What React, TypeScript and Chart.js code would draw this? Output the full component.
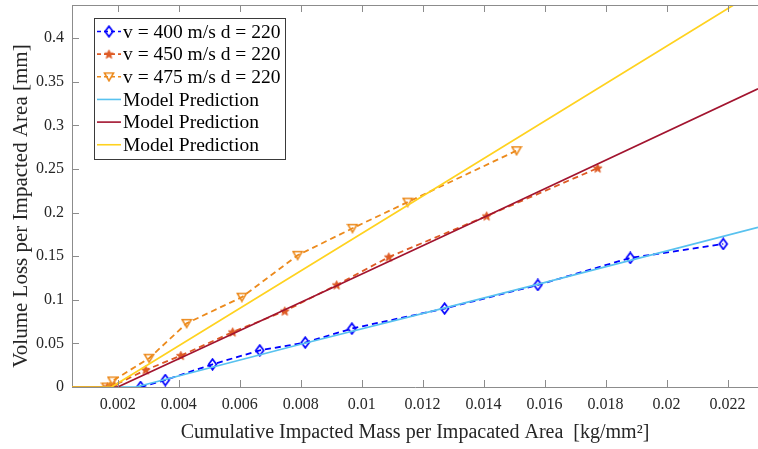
import React, { useEffect, useRef } from "react";
import { Chart, registerables } from "chart.js";

Chart.register(...registerables);

// ---- data ----
const x400 = [0.00275, 0.00356, 0.00511, 0.00666, 0.00815, 0.00968, 0.01272, 0.01578, 0.01881, 0.02186];
const y400 = [0, 0.008, 0.026, 0.042, 0.051, 0.067, 0.09, 0.117, 0.148, 0.164];

const x450 = [0.00166, 0.00188, 0.00292, 0.00407, 0.00577, 0.00748, 0.00918, 0.01089, 0.0141, 0.01774];
const y450 = [0, 0.002, 0.0195, 0.036, 0.063, 0.087, 0.117, 0.149, 0.196, 0.251];

const x475 = [0.00163, 0.00183, 0.00303, 0.00426, 0.00607, 0.0079, 0.0097, 0.01151, 0.01508];
const y475 = [0, 0.007, 0.033, 0.073, 0.103, 0.151, 0.182, 0.212, 0.271];

const xModel400 = [0.0005, 0.0026, 0.008, 0.0127, 0.0158, 0.023];
const yModel400 = [0, 0, 0.049, 0.0905, 0.118, 0.183];

const xModel450 = [0.0005, 0.002, 0.00918, 0.0141, 0.023];
const yModel450 = [0, 0, 0.116, 0.196, 0.342];

const xModel475 = [0.0005, 0.0018, 0.0127, 0.0222, 0.023];
const yModel475 = [0, 0, 0.234, 0.438, 0.455];

const xTicks = [0.002, 0.004, 0.006, 0.008, 0.01, 0.012, 0.014, 0.016, 0.018, 0.02, 0.022];
const yTicks = [0, 0.05, 0.1, 0.15, 0.2, 0.25, 0.3, 0.35, 0.4];

const seriesLabels = [
  "v = 400 m/s d = 220",
  "v = 450 m/s d = 220",
  "v = 475 m/s d = 220",
  "Model Prediction",
  "Model Prediction",
  "Model Prediction",
];

const xTitle = "Cumulative Impacted Mass per Impacated Area  [kg/mm\u00B2]";
const yTitle = "Volume Loss per Impacted Area [mm]";

// ---- styles ----
const C_BLUE = "#0000ff";
const C_STAR = "#de5a24";
const C_TRI = "#ec8a1c";
const C_CYAN = "#58c2ef";
const C_RED = "#a2142f";
const C_YEL = "#ffd21f";
const FONT = "'Liberation Serif', 'Times New Roman', serif";

function makeDiamond(color: string) {
  const c = document.createElement("canvas");
  c.width = 11;
  c.height = 13;
  const g = c.getContext("2d")!;
  g.strokeStyle = color;
  g.lineWidth = 1.7;
  g.beginPath();
  g.moveTo(5.5, 1.2);
  g.lineTo(9.4, 6.5);
  g.lineTo(5.5, 11.8);
  g.lineTo(1.6, 6.5);
  g.closePath();
  g.stroke();
  return c;
}

function makeTriangle(color: string) {
  const c = document.createElement("canvas");
  c.width = 12;
  c.height = 11;
  const g = c.getContext("2d")!;
  g.strokeStyle = color;
  g.lineWidth = 1.6;
  g.beginPath();
  g.moveTo(1.5, 1.8);
  g.lineTo(10.5, 1.8);
  g.lineTo(6, 9.5);
  g.closePath();
  g.stroke();
  return c;
}

function makeStar(color: string) {
  const c = document.createElement("canvas");
  c.width = 11;
  c.height = 11;
  const g = c.getContext("2d")!;
  g.fillStyle = color;
  g.strokeStyle = color;
  g.lineWidth = 1;
  g.beginPath();
  for (let i = 0; i < 10; i++) {
    const r = i % 2 === 0 ? 4.6 : 2.0;
    const a = -Math.PI / 2 + (i * Math.PI) / 5;
    const px = 5.5 + r * Math.cos(a);
    const py = 5.8 + r * Math.sin(a);
    if (i === 0) g.moveTo(px, py);
    else g.lineTo(px, py);
  }
  g.closePath();
  g.fill();
  g.stroke();
  return c;
}

const fmt = (v: number) => Number(v.toFixed(6)).toString();

const toPts = (xs: number[], ys: number[]) => xs.map((x, i) => ({ x, y: ys[i] }));

export default function App() {
  const ref = useRef<HTMLCanvasElement>(null);

  useEffect(() => {
    if (!ref.current) return;
    const diamond = makeDiamond(C_BLUE);
    const star = makeStar(C_STAR);
    const tri = makeTriangle(C_TRI);

    const legendItems = [
      { color: C_BLUE, dash: true, marker: diamond },
      { color: C_STAR, dash: true, marker: star },
      { color: C_TRI, dash: true, marker: tri },
      { color: C_CYAN, dash: false, marker: null },
      { color: C_RED, dash: false, marker: null },
      { color: C_YEL, dash: false, marker: null },
    ];

    const framePlugin = {
      id: "frameTicks",
      afterDatasetsDraw(chart: any) {
        const { ctx, chartArea, scales } = chart;
        const { left, right, top, bottom } = chartArea;
        ctx.save();
        ctx.strokeStyle = "#8c8c8c";
        ctx.lineWidth = 1;
        ctx.beginPath();
        const ty = Math.round(top) + 0.5;
        ctx.moveTo(left, ty);
        ctx.lineTo(right, ty);
        const tl = 7;
        for (const v of xTicks) {
          const px = Math.round(scales.x.getPixelForValue(v)) + 0.5;
          ctx.moveTo(px, bottom);
          ctx.lineTo(px, bottom - tl);
          ctx.moveTo(px, top);
          ctx.lineTo(px, top + tl);
        }
        for (const v of yTicks) {
          const py = Math.round(scales.y.getPixelForValue(v)) + 0.5;
          ctx.moveTo(left, py);
          ctx.lineTo(left + tl, py);
        }
        ctx.stroke();
        // y axis title
        ctx.translate(21, (top + bottom) / 2 + 10);
        ctx.rotate(-Math.PI / 2);
        ctx.font = `21px ${FONT}`;
        ctx.fillStyle = "#262626";
        ctx.textAlign = "center";
        ctx.textBaseline = "middle";
        ctx.fillText(yTitle, 0, 0);
        ctx.restore();
      },
    };

    const legendPlugin = {
      id: "boxLegend",
      afterDraw(chart: any) {
        const ctx = chart.ctx;
        const bx = 94.5, by = 18.5, bw = 191, bh = 141;
        ctx.save();
        ctx.fillStyle = "#ffffff";
        ctx.fillRect(bx, by, bw, bh);
        ctx.strokeStyle = "#3a3a3a";
        ctx.lineWidth = 1;
        ctx.strokeRect(bx, by, bw, bh);
        const rowY0 = 31.5;
        const pitch = 22.65;
        ctx.font = `19.5px ${FONT}`;
        ctx.textBaseline = "middle";
        ctx.textAlign = "left";
        legendItems.forEach((it, i) => {
          const cy = rowY0 + i * pitch;
          ctx.strokeStyle = it.color;
          ctx.lineWidth = 1.6;
          ctx.setLineDash(it.dash ? [4, 3] : []);
          ctx.beginPath();
          ctx.moveTo(97, cy);
          ctx.lineTo(121, cy);
          ctx.stroke();
          ctx.setLineDash([]);
          if (it.marker) {
            const m = it.marker as HTMLCanvasElement;
            ctx.drawImage(m, 109 - m.width / 2, cy - m.height / 2);
          }
          ctx.fillStyle = "#000000";
          ctx.fillText(seriesLabels[i], 123, cy + 1);
        });
        ctx.restore();
      },
    };

    const chart = new Chart(ref.current, {
      type: "scatter",
      data: {
        datasets: [
          {
            label: seriesLabels[0],
            data: toPts(x400, y400),
            showLine: true,
            borderColor: C_BLUE,
            backgroundColor: C_BLUE,
            borderWidth: 1.8,
            borderDash: [6, 4],
            pointStyle: diamond as any,
            pointRadius: 5,
            order: 6,
          },
          {
            label: seriesLabels[1],
            data: toPts(x450, y450),
            showLine: true,
            borderColor: C_STAR,
            backgroundColor: C_STAR,
            borderWidth: 1.8,
            borderDash: [6, 4],
            pointStyle: star as any,
            pointRadius: 5,
            order: 5,
          },
          {
            label: seriesLabels[2],
            data: toPts(x475, y475),
            showLine: true,
            borderColor: C_TRI,
            backgroundColor: C_TRI,
            borderWidth: 1.8,
            borderDash: [6, 4],
            pointStyle: tri as any,
            pointRadius: 5,
            order: 4,
          },
          {
            label: seriesLabels[3],
            data: toPts(xModel400, yModel400),
            showLine: true,
            borderColor: C_CYAN,
            borderWidth: 1.7,
            pointRadius: 0,
            order: 3,
          },
          {
            label: seriesLabels[4],
            data: toPts(xModel450, yModel450),
            showLine: true,
            borderColor: C_RED,
            borderWidth: 1.7,
            pointRadius: 0,
            order: 2,
          },
          {
            label: seriesLabels[5],
            data: toPts(xModel475, yModel475),
            showLine: true,
            borderColor: C_YEL,
            borderWidth: 1.7,
            pointRadius: 0,
            order: 1,
          },
        ],
      },
      options: {
        responsive: false,
        animation: false,
        devicePixelRatio: 1,
        layout: { autoPadding: false, padding: { top: 5, left: 0, right: 0, bottom: 0 } },
        plugins: {
          legend: { display: false },
          tooltip: { enabled: false },
        },
        scales: {
          x: {
            type: "linear",
            min: 0.0005,
            max: 0.023,
            afterBuildTicks: (s: any) => {
              s.ticks = xTicks.map((v) => ({ value: v }));
            },
            afterFit: (s: any) => {
              s.height = 62;
              s.paddingLeft = 0;
              s.paddingRight = 0;
            },
            grid: { display: false, drawTicks: false },
            border: { display: true, color: "#8c8c8c", width: 1 },
            ticks: {
              callback: (v: any) => fmt(Number(v)),
              font: { family: FONT, size: 16 },
              color: "#262626",
              padding: 8,
              maxRotation: 0,
              autoSkip: false,
            },
            title: {
              display: true,
              text: xTitle,
              font: { family: FONT, size: 20 },
              color: "#262626",
              padding: { top: 0, bottom: 4 },
            },
          },
          y: {
            type: "linear",
            min: 0,
            max: 0.438,
            afterBuildTicks: (s: any) => {
              s.ticks = yTicks.map((v) => ({ value: v }));
            },
            afterFit: (s: any) => {
              s.width = 72;
              s.paddingTop = 0;
              s.paddingBottom = 0;
            },
            grid: { display: false, drawTicks: false },
            border: { display: true, color: "#8c8c8c", width: 1 },
            ticks: {
              callback: (v: any) => fmt(Number(v)),
              font: { family: FONT, size: 16 },
              color: "#262626",
              padding: 8,
              autoSkip: false,
            },
            title: { display: false },
          },
        },
      },
      plugins: [framePlugin, legendPlugin],
    } as any);

    return () => chart.destroy();
  }, []);

  return (
    <div style={{ position: "fixed", left: 0, top: 0, width: 758, height: 449, background: "#fff" }}>
      <canvas ref={ref} width={758} height={449} style={{ display: "block", width: 758, height: 449 }} />
    </div>
  );
}
